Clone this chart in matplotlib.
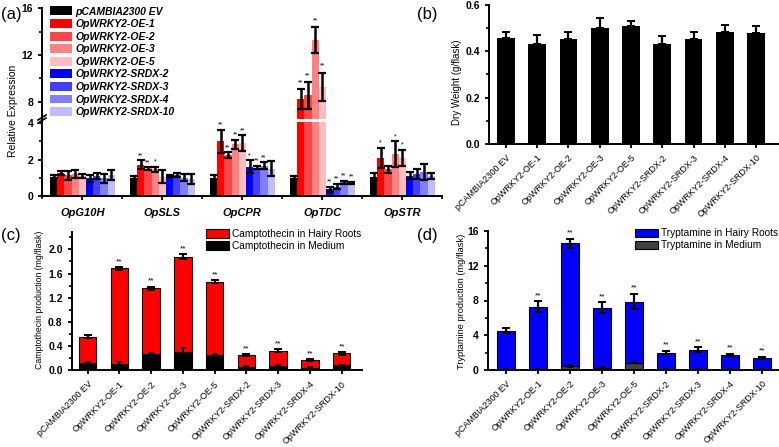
import numpy as np
import matplotlib
matplotlib.use('Agg')
import matplotlib.pyplot as plt
from matplotlib.lines import Line2D
from matplotlib.patches import Patch
from matplotlib.ticker import MultipleLocator

plt.rcParams['font.family'] = ['Liberation Sans', 'DejaVu Sans']

# ---------------- data ----------------
lines = ['pCAMBIA2300 EV', 'OpWRKY2-OE-1', 'OpWRKY2-OE-2', 'OpWRKY2-OE-3', 'OpWRKY2-OE-5',
         'OpWRKY2-SRDX-2', 'OpWRKY2-SRDX-3', 'OpWRKY2-SRDX-4', 'OpWRKY2-SRDX-10']
genes = ['OpG10H', 'OpSLS', 'OpCPR', 'OpTDC', 'OpSTR']

# relative expression (rows = genes, columns = lines)
expr = [[1.05, 1.24, 1.14, 1.18, 1.08, 0.96, 1.08, 0.96, 1.14],
        [1.00, 1.72, 1.50, 1.45, 1.05, 1.10, 1.15, 1.00, 0.90],
        [1.00, 3.00, 2.25, 2.85, 2.90, 1.60, 1.55, 1.65, 1.50],
        [1.00, 8.20, 8.55, 13.30, 9.30, 0.35, 0.50, 0.74, 0.70],
        [1.05, 2.10, 1.45, 2.30, 2.10, 1.10, 1.20, 1.30, 1.10]]
expr_err = [[0.07, 0.10, 0.25, 0.22, 0.12, 0.20, 0.15, 0.25, 0.30],
            [0.08, 0.25, 0.08, 0.15, 0.35, 0.07, 0.12, 0.18, 0.28],
            [0.12, 0.65, 0.15, 0.25, 0.45, 0.35, 0.10, 0.20, 0.40],
            [0.10, 0.85, 1.15, 1.10, 1.20, 0.15, 0.15, 0.08, 0.07],
            [0.20, 0.55, 0.20, 0.70, 0.45, 0.20, 0.28, 0.45, 0.15]]
expr_sig = [['', '', '', '', '', '', '', '', ''],
            ['', '**', '**', '*', '', '', '', '', ''],
            ['', '**', '**', '**', '**', '*', '**', '**', ''],
            ['', '**', '**', '**', '**', '**', '**', '**', '**'],
            ['', '*', '', '*', '*', '', '', '', '']]

dry = [0.456, 0.430, 0.452, 0.502, 0.511, 0.430, 0.452, 0.482, 0.479]
dry_err = [0.029, 0.042, 0.032, 0.043, 0.022, 0.037, 0.032, 0.030, 0.030]

cpt_roots = [0.440, 1.576, 1.090, 1.570, 1.213, 0.193, 0.255, 0.120, 0.198]
cpt_medium = [0.116, 0.110, 0.270, 0.310, 0.253, 0.060, 0.070, 0.045, 0.083]
cpt_err = [0.030, 0.025, 0.025, 0.035, 0.020, 0.020, 0.020, 0.015, 0.025]
cpt_med_err = [0.020, 0.020, 0.010, 0.060, 0.015, 0.010, 0.010, 0.010, 0.010]
cpt_sig = ['', '**', '**', '**', '**', '**', '**', '**', '**']

try_roots = [4.48, 7.21, 14.13, 6.93, 7.02, 1.95, 2.29, 1.68, 1.33]
try_medium = [0.05, 0.08, 0.45, 0.25, 0.85, 0.05, 0.05, 0.05, 0.05]
try_err = [0.30, 0.60, 0.50, 0.60, 0.90, 0.20, 0.30, 0.15, 0.15]
try_med_err = [0.02, 0.02, 0.08, 0.05, 0.10, 0.02, 0.02, 0.02, 0.02]
try_sig = ['', '**', '**', '**', '**', '**', '**', '**', '**']

colors = ['#000000', '#ff0000', '#ff4545', '#ff8282', '#ffbdbd',
          '#0000ff', '#4040ff', '#8080ff', '#bdbdff']

W, H = 779, 447
fig = plt.figure(figsize=(W / 100, H / 100), dpi=100)


def px_axes(x0, x1, ytop, ybot):
    return fig.add_axes([x0 / W, 1 - ybot / H, (x1 - x0) / W, (ybot - ytop) / H])


def style(ax):
    for s in ['top', 'right']:
        ax.spines[s].set_visible(False)
    for s in ['left', 'bottom']:
        ax.spines[s].set_linewidth(1.4)
    ax.tick_params(which='major', direction='out', length=3, width=1.3, labelsize=7.5)
    ax.tick_params(which='minor', direction='out', length=2, width=1.2)
    for lab in ax.get_yticklabels():
        lab.set_fontweight('bold')


# ---------------- (a) broken-axis grouped bars ----------------
ax_lo = px_axes(42.3, 442.3, 121.5, 195.7)
ax_hi = px_axes(42.3, 442.3, 8.3, 119.0)
ax_lo.set_ylim(0, 4.1)
ax_hi.set_ylim(6.52, 16)
bw = 0.09
xg = np.arange(len(genes))
for ax in (ax_lo, ax_hi):
    for j in range(len(lines)):
        vals = [expr[g][j] for g in range(len(genes))]
        errs = [expr_err[g][j] for g in range(len(genes))]
        xs = xg + (j - 4) * bw
        ax.bar(xs, vals, bw, color=colors[j], label=lines[j])
        ax.errorbar(xs, vals, yerr=errs, fmt='none', ecolor='k', elinewidth=1.8,
                    capsize=2.6, capthick=1.6)
    ax.set_xlim(-0.5, 4.5)
    style(ax)

for g in range(len(genes)):
    for j in range(len(lines)):
        s = expr_sig[g][j]
        if not s:
            continue
        top = expr[g][j] + expr_err[g][j]
        ax = ax_hi if top > 6.5 else ax_lo
        off = 0.25 if ax is ax_hi else 0.06
        ax.text(xg[g] + (j - 4) * bw, top + off, s, ha='center', va='bottom', fontsize=5)

ax_hi.spines['bottom'].set_visible(False)
ax_hi.set_xticks([])
ax_hi.set_yticks([8, 12, 16])
ax_hi.yaxis.set_minor_locator(MultipleLocator(2))
ax_lo.set_yticks([0, 2, 4])
ax_lo.yaxis.set_minor_locator(MultipleLocator(1))
ax_lo.set_xticks(xg)
ax_lo.set_xticks(np.arange(-0.5, 4.6, 1), minor=True)
ax_lo.set_xticklabels(genes, fontsize=8, fontweight='bold', fontstyle='italic')
ax_lo.tick_params(axis='x', which='major', pad=6)
for ax in (ax_lo, ax_hi):
    for lab in ax.get_yticklabels():
        lab.set_fontweight('bold')

# break marks on the left spine
for dy in (0, 3):
    fig.add_artist(Line2D([38 / W, 46 / W], [1 - (123 - dy) / H, 1 - (118 - dy) / H],
                          color='k', lw=1.2))

handles = [Patch(facecolor=c, edgecolor='none') for c in colors]
leg = fig.legend(handles, lines, loc='upper left', bbox_to_anchor=(50 / W, 1 - 6.5 / H),
                 frameon=False, borderaxespad=0, borderpad=0, handlelength=2.1,
                 handleheight=0.95, handletextpad=0.35, labelspacing=0.24,
                 prop={'size': 7.5, 'weight': 'bold', 'style': 'italic'})

fig.text(13.5 / W, 1 - 111 / H, 'Relative Expression', rotation=90, ha='center',
         va='center', fontsize=7.5)
fig.text(1 / W, 1 - 15 / H, '(a)', fontsize=12, ha='left', va='center')

# ---------------- (b) dry weight ----------------
xb = np.arange(len(lines))
ax_b = px_axes(489.3, 778, 5, 144)
ax_b.bar(xb, dry, 0.57, color='k')
ax_b.errorbar(xb, dry, yerr=[np.zeros(len(dry)), dry_err], fmt='none', ecolor='k',
              elinewidth=1.6, capsize=2.6, capthick=1.4)
ax_b.set_ylim(0, 0.6)
ax_b.set_xlim(-0.53, 8.7)
ax_b.set_yticks([0.0, 0.2, 0.4, 0.6])
ax_b.set_yticklabels(['0.0', '0.2', '0.4', '0.6'])
ax_b.yaxis.set_minor_locator(MultipleLocator(0.1))
ax_b.set_xticks(xb)
ax_b.set_xticklabels(lines, rotation=45, ha='right', rotation_mode='anchor', fontsize=6.5)
style(ax_b)
ax_b.tick_params(axis='x', labelsize=6.5)
fig.text(457 / W, 1 - 82.5 / H, 'Dry Weight (g/flask)', rotation=90, ha='center',
         va='center', fontsize=7)
fig.text(417 / W, 1 - 15 / H, '(b)', fontsize=12, ha='left', va='center')


# ---------------- (c) & (d) stacked production ----------------
def stacked(ax, roots, medium, err, med_err, sig, top_color, med_color, labels, ylim, step,
            minor, fmt, star_off):
    tot = np.array(roots) + np.array(medium)
    ax.bar(xb, medium, 0.55, color=med_color, edgecolor='k', linewidth=0.8, label=labels[1])
    ax.bar(xb, roots, 0.55, bottom=medium, color=top_color, edgecolor='k', linewidth=0.8,
           label=labels[0])
    ax.errorbar(xb, tot, yerr=err, fmt='none', ecolor='k', elinewidth=1.6, capsize=2.6,
                capthick=1.4)
    ax.errorbar(xb, medium, yerr=med_err, fmt='none', ecolor='k', elinewidth=1.4,
                capsize=2.2, capthick=1.2)
    for i, s in enumerate(sig):
        if s:
            ax.text(xb[i], tot[i] + err[i] + star_off, s, ha='center', va='bottom',
                    fontsize=6)
    ax.set_ylim(*ylim)
    ticks = np.arange(0, ylim[1] + 1e-9, step)
    ax.set_yticks(ticks)
    ax.set_yticklabels([fmt.format(t) for t in ticks])
    ax.yaxis.set_minor_locator(MultipleLocator(minor))
    ax.set_xticks(xb)
    ax.set_xticklabels(lines, rotation=45, ha='right', rotation_mode='anchor')
    style(ax)
    ax.tick_params(axis='x', labelsize=6.5)
    h = [Patch(facecolor=top_color, edgecolor='k', linewidth=0.8),
         Patch(facecolor=med_color, edgecolor='k', linewidth=0.8)]
    ax.legend(h, labels, loc='upper right', bbox_to_anchor=(1.0, 1.02), frameon=False,
              borderaxespad=0, borderpad=0, fontsize=7.3, handlelength=2.3,
              handleheight=0.9, handletextpad=0.3, labelspacing=0.2)


ax_c = px_axes(71.7, 361.7, 231.8, 370.3)
stacked(ax_c, cpt_roots, cpt_medium, cpt_err, cpt_med_err, cpt_sig, '#ff0000', '#000000',
        ['Camptothecin in Hairy Roots', 'Camptothecin in Medium'], (0, 2.29), 0.4, 0.2,
        '{:.1f}', 0.03)
ax_c.set_xlim(-0.5, 8.63)
fig.text(40 / W, 1 - 300 / H, 'Camptothecin production (mg/flask)', rotation=90,
         ha='center', va='center', fontsize=6.3)
fig.text(1 / W, 1 - 235 / H, '(c)', fontsize=12, ha='left', va='center')

ax_d = px_axes(487.7, 778, 231, 370)
stacked(ax_d, try_roots, try_medium, try_err, try_med_err, try_sig, '#0000ff', '#404040',
        ['Tryptamine in Hairy Roots', 'Tryptamine in Medium'], (0, 16), 4, 2,
        '{:.0f}', 0.25)
ax_d.set_xlim(-0.57, 8.5)
fig.text(462 / W, 1 - 301 / H, 'Tryptamine production (mg/flask)', rotation=90,
         ha='center', va='center', fontsize=6.7)
fig.text(417 / W, 1 - 235 / H, '(d)', fontsize=12, ha='left', va='center')

fig.savefig('out.png', dpi=100)
